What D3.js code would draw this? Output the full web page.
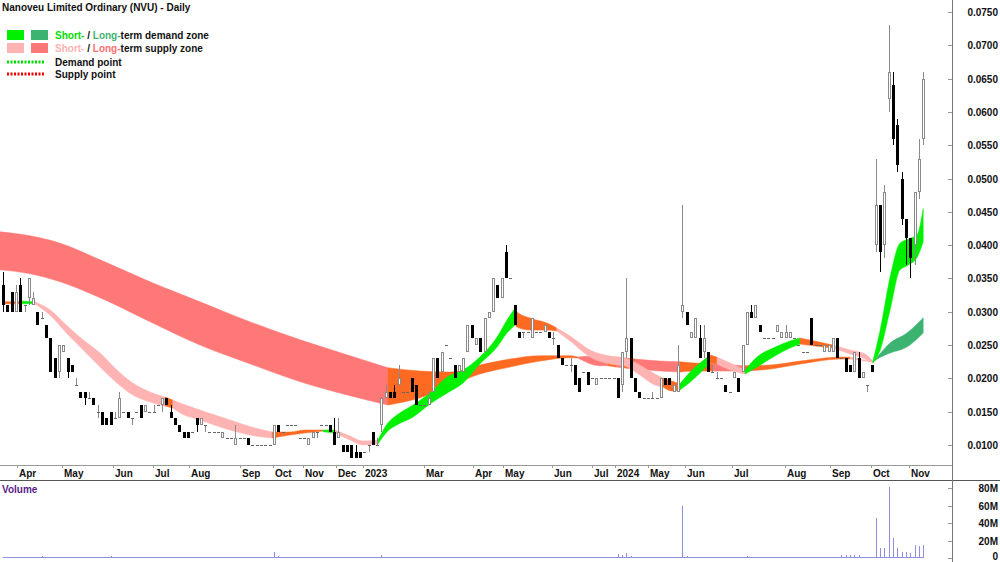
<!DOCTYPE html>
<html>
<head>
<meta charset="utf-8">
<script src="https://cdn.jsdelivr.net/npm/d3@7"></script>
<style>
    body { margin: 0; background: #fff; }
    svg { display: block; font-family: "Liberation Sans", Arial, sans-serif; font-weight: bold; font-size: 10px; }
</style>
</head>
<body>
<div id="chart"></div>
<script>
// Prices are in 0.1 cent units (31 = $0.031), one entry per bar
const opens = [
    34,31,33,30,34,31,32,31,30,29, 28,26,23,21,24,23,22,19,18,18,
    17,17,15,15,14,15,14,14,15,15, 14,15,16,15,15,15,16,16,17,15,
    14,13,12,12,12,14,13,13,12,12, 12,11,11,11,10,11,11,11,10,10,
    10,10,10,10,13,12,13,13,13,11, 11,10,11,12,13,13,13,12,11,10,
    10,10,9,9,9,10,12,10,13,17, 18,18,19,18,18,20,19,16,16,16,
    18,23,21,25,23,22,21,21,24,28, 25,26,24,29,30,34,32,39,35,31,
    27,27,27,26,27,27,27,27,26,25, 23,22,22,22,20,21,21,20,19,20,
    20,20,20,20,19,24,26,20,18,17, 17,17,17,17,20,20,18,18,30,30,
    26,26,26,24,24,21,20,20,19,18, 20,20,21,25,30,29,28,26,26,26,
    27,26,26,26,26,25,24,24,29,25, 25,24,24,24,26,23,23,22,21,23,
    20,19,22,40,46,40,62,64,58,50, 44,41,40,48,56
];
const highs = [
    36,31,33,34,35,31,35,33,30,30, 28,26,23,25,25,23,22,20,18,18,
    18,17,16,15,14,15,15,18,15,15, 14,15,16,16,15,16,16,17,17,16,
    14,13,12,12,12,14,14,13,12,12, 12,12,11,11,13,11,11,11,10,10,
    10,10,10,13,13,12,13,13,13,11, 11,11,12,12,13,13,13,14,14,10,
    10,10,10,9,9,10,12,11,17,19, 18,19,22,18,18,20,19,16,16,18,
    23,23,24,25,23,22,22,23,28,28, 26,26,29,30,35,34,35,40,35,31,
    27,27,27,29,27,27,28,27,27,25, 23,22,23,22,20,21,21,20,20,20,
    20,20,20,20,24,35,26,20,18,17, 17,18,17,20,20,20,19,25,46,30,
    27,29,28,28,24,22,21,20,19,18, 21,20,25,30,31,31,28,26,26,26,
    28,27,28,27,26,25,24,24,29,25, 25,25,25,26,26,23,23,22,24,24,
    21,19,22,53,46,49,73,66,59,51, 44,41,48,56,66
];
const lows = [
    30,30,30,30,30,30,31,31,28,29, 26,21,20,20,24,20,21,19,17,16,
    17,16,14,13,13,13,14,14,15,14, 13,15,14,15,15,15,16,15,16,14,
    13,12,11,11,12,12,13,12,12,12, 12,11,11,11,10,11,11,10,10,10,
    10,10,10,10,12,12,13,13,13,11, 11,10,11,11,13,13,12,10,11,9,
    9,8,8,8,9,9,10,10,12,17, 17,17,19,18,18,18,16,16,16,16,
    18,20,21,25,23,20,21,21,24,26, 25,24,24,29,30,32,32,35,35,28,
    26,26,27,26,27,27,27,26,25,23, 22,22,21,19,18,21,19,20,19,20,
    20,20,20,17,18,23,20,18,17,17, 17,17,17,17,19,19,18,18,29,28,
    26,26,23,23,21,21,20,20,18,18, 20,18,21,25,29,29,27,26,26,26,
    27,26,26,26,26,25,24,24,25,25, 25,24,24,24,23,23,21,21,21,20,
    20,18,21,39,36,38,60,55,51,43, 37,35,37,47,55
];
const closes = [
    31,30,30,33,30,31,35,32,28,29, 26,21,20,25,25,21,21,19,17,17,
    17,16,15,13,13,13,14,17,15,14, 14,15,14,16,15,15,16,17,16,14,
    13,12,11,11,12,13,14,13,12,12, 12,12,11,11,11,11,11,10,10,10,
    10,10,10,13,12,12,13,13,13,11, 11,11,12,12,13,13,12,10,12,9,
    9,8,8,8,9,10,10,10,17,18, 17,17,20,18,18,18,16,16,16,17,
    23,20,24,25,23,20,22,23,28,26, 26,24,29,30,35,32,35,35,35,28,
    26,27,27,29,27,27,28,26,26,23, 22,22,22,19,18,21,19,20,20,20,
    20,20,20,17,24,26,20,18,17,17, 17,17,17,20,19,19,19,22,31,28,
    27,29,23,26,21,21,20,20,18,18, 21,18,25,30,29,31,27,26,26,26,
    28,27,27,27,26,25,24,24,25,25, 25,25,25,26,23,23,21,21,24,20,
    21,19,21,46,39,48,66,56,52,44, 41,38,48,53,65
];
// Volume in millions of shares
const volumes = [
    1,1,1,1,1,1,1,1,1,2, 1,1,1,1,1,1,1,1,1,1,
    1,1,1,1,1,2,1,1,1,1, 1,1,1,1,1,1,1,1,1,1,
    1,1,1,1,1,1,1,1,1,1, 1,1,1,1,1,1,1,1,1,1,
    1,1,1,7,2,1,1,1,1,1, 1,1,1,1,1,1,1,1,1,1,
    1,1,1,1,1,1,1,1,3,1, 1,1,1,1,1,1,1,1,1,1,
    1,1,1,1,1,1,1,1,1,1, 1,1,1,1,1,1,1,1,1,1,
    1,1,1,1,1,1,1,1,1,1, 1,1,1,1,1,1,1,1,1,1,
    1,1,1,5,3,6,2,1,1,1, 1,1,1,1,1,1,1,1,60,2,
    1,1,1,1,1,1,1,1,1,1, 1,1,1,2,1,1,1,1,1,1,
    1,1,1,1,1,1,1,1,1,1, 1,1,1,1,1,3,3,3,3,3,
    1,1,1,46,12,12,81,23,12,7, 7,6,15,14,15
];

// Zone bands: [bar position, upper, lower] per point
const longBand = [
    ['ls', [[-0.7,42.0,36.3],[6.3,41.4,35.7],[13.3,40.3,34.5],[22.6,37.8,32.1],[34.2,34.5,28.5],[45.8,31.5,25.0],[57.4,28.5,22.2],[69.1,25.8,19.5],[80.7,23.4,17.4],[89.5,21.6,16.0]]],
    ['mx', [[89.5,21.6,16.0],[97.0,21.1,17.1],[104.0,20.95,18.9],[110.9,22.0,20.65],[117.9,22.9,21.7],[124.9,23.4,22.6],[131.9,23.4,23.1],[133.7,23.2,23.05]]],
    ['ls', [[133.7,23.2,23.05],[138.8,23.4,21.9],[140.7,23.2,21.9]]],
    ['mx', [[140.7,23.2,21.9],[142.6,23.2,21.7]]],
    ['ls', [[142.6,23.2,21.7],[144.0,23.1,21.6]]],
    ['mx', [[144.0,23.1,21.6],[147.0,22.9,21.4]]],
    ['ls', [[147.0,22.9,21.4],[152.8,22.6,21.1],[157.4,22.5,20.95]]],
    ['mx', [[157.4,22.5,20.95],[160.9,22.3,21.1],[164.9,22.2,21.1]]],
    ['ls', [[164.9,22.2,21.1],[172.1,21.9,21.1]]],
    ['mx', [[172.1,21.9,21.1],[178.4,22.0,21.4],[185.4,22.6,22.15],[194.7,23.2,22.9],[197.0,23.2,22.9]]],
    ['ss', [[197.0,23.2,22.9],[202.3,22.5,22.45]]],
    ['ld', [[202.3,22.5,22.45],[203.3,23.2,22.9],[206.3,25.3,23.8],[210.2,26.8,24.7],[214.0,29.1,26.8]]]
];
const shortBand = [
    ['mx', [[0,31.5,31.2],[4.0,31.5,31.2]]],
    ['sd', [[4.0,31.6,31.2],[7.4,31.5,31.2]]],
    ['ss', [[7.4,31.5,31.2],[10.9,30.3,29.5],[14.9,27.9,26.7],[18.6,25.8,24.3],[22.6,23.8,21.7],[26.5,21.25,19.3],[30.2,19.3,17.5],[34.2,17.95,16.45],[37.7,17.2,15.85]]],
    ['mx', [[37.7,17.2,15.85],[39.5,16.75,15.55]]],
    ['ss', [[39.5,16.75,15.55],[41.2,16.3,14.8],[45.8,15.25,13.75],[52.8,13.75,12.25],[58.6,12.55,11.35],[62.6,11.95,11.05]]],
    ['mx', [[62.6,11.95,11.05],[66.7,11.95,11.5],[70.2,12.25,11.8],[74.4,12.25,12.1]]],
    ['sd', [[74.4,12.25,12.0],[77.2,12.25,11.8]]],
    ['ss', [[77.2,12.25,11.8],[80.7,11.35,10.75],[83.7,10.6,10.0],[87.2,10.75,10.15]]],
    ['sd', [[87.2,10.75,10.15],[89.5,13.3,12.1],[91.6,14.5,13.0],[95.35,16.0,14.2],[99.3,17.8,16.15],[103.3,20.2,17.8],[107.0,21.25,19.3],[110.9,23.2,22.15],[114.9,26.2,24.7],[117.2,28.75,26.8],[119.1,30.55,28.0]]],
    ['mx', [[119.1,30.55,28.0],[119.5,30.0,27.7],[122.6,29.05,27.25],[126.5,28.3,27.25],[128.8,27.55,27.1]]],
    ['ss', [[128.8,27.55,27.1],[131.9,26.35,25.6],[136.5,24.25,23.2],[141.2,23.35,22.15],[144.65,23.05,21.85],[148.1,22.0,20.5],[151.6,20.65,19.0],[153.5,20.05,18.7]]],
    ['mx', [[153.5,20.05,18.7],[155.6,19.6,18.1],[157.4,19.15,18.25]]],
    ['sd', [[157.4,19.15,18.25],[159.8,20.95,19.45],[162.1,22.3,20.8],[164.4,23.5,22.3]]],
    ['mx', [[164.4,23.5,22.3],[166.05,23.2,22.15]]],
    ['ss', [[166.05,23.2,22.15],[169.1,22.3,21.25],[172.6,21.25,20.65]]],
    ['sd', [[172.6,21.25,20.65],[175.35,23.2,21.7],[179.1,24.55,23.2],[183.0,25.6,24.55],[185.35,26.05,25.15]]],
    ['mx', [[185.35,26.05,25.15],[188.8,25.6,24.85],[193.0,25.0,24.55]]],
    ['ss', [[193.0,25.0,24.55],[197.0,24.25,23.65],[200.5,23.65,22.9],[202.3,22.6,22.3]]],
    ['sd', [[202.3,22.6,22.3],[204.0,27.25,24.25],[206.3,35.2,30.25],[208.6,40.3,36.3],[210.5,40.9,37.0],[212.6,41.6,38.2],[214.0,45.5,40.5]]]
];

// Axis labels
const monthLabels = ['Apr','May','Jun','Jul','Aug','Sep','Oct','Nov','Dec','2023','Mar','Apr','May','Jun','Jul','2024','May','Jun','Jul','Aug','Sep','Oct','Nov'];
const monthPos = [3.26,13.72,25.58,34.88,43.26,55.12,62.79,69.77,77.44,83.72,97.91,109.3,116.28,127.67,136.98,142.33,150.0,158.6,169.53,181.86,192.33,201.86,210.7];
const priceTicks = [10,15,20,25,30,35,40,45,50,55,60,65,70,75];
const volTicks = [0,20,40,60,80];
const volTickLabels = ['0','20M','40M','60M','80M'];

const zoneColors = {
    sd: '#00f000',   // short-term demand
    ld: '#3cb371',   // long-term demand
    ss: '#ffb3b3',   // short-term supply
    ls: '#ff7878',   // long-term supply
    mx: '#ff6a22'
};

const W = 1000, H = 562;
const axisX = 952;
const priceBottom = 465;

const svg = d3.select('#chart').append('svg')
    .attr('width', W)
    .attr('height', H);

svg.append('rect').attr('width', W).attr('height', H).attr('fill', '#fff');

// Scales
const x = d3.scaleLinear().domain([-0.7, 220.7]).range([0, axisX]);
const y = d3.scaleLinear().domain([7.0, 76.8]).range([priceBottom, 0]);
const vy = d3.scaleLinear().domain([0, 80]).range([558, 488]);

svg.append('clipPath').attr('id', 'priceClip')
    .append('rect').attr('x', 0).attr('y', 0).attr('width', axisX).attr('height', priceBottom);

const plot = svg.append('g').attr('clip-path', 'url(#priceClip)');

// Zone bands
const area = d3.area()
    .x(d => x(d[0]))
    .y0(d => y(d[2]))
    .y1(d => y(d[1]))
    .curve(d3.curveMonotoneX);

[longBand, shortBand].forEach(band => {
    band.forEach(seg => {
        plot.append('path')
            .attr('d', area(seg[1]))
            .attr('fill', zoneColors[seg[0]])
            .attr('stroke', zoneColors[seg[0]])
            .attr('stroke-width', 0.5);
    });
});

// Candles
const candles = plot.append('g').attr('shape-rendering', 'crispEdges');
opens.forEach((o, i) => {
    const h = highs[i], l = lows[i], c = closes[i];
    const px = Math.round(x(i));
    const up = c > o;
    const down = c < o;
    const col = down ? '#000' : '#8a8a8a';
    if (h > l) {
        candles.append('line')
            .attr('x1', px + 0.5).attr('x2', px + 0.5)
            .attr('y1', Math.round(y(h))).attr('y2', Math.round(y(l)))
            .attr('stroke', col).attr('stroke-width', 1);
    }
    if (down) {
        const y0 = Math.round(y(o)), y1 = Math.round(y(c));
        candles.append('rect')
            .attr('x', px - 1).attr('y', y0)
            .attr('width', 3).attr('height', Math.max(1, y1 - y0))
            .attr('fill', '#000');
    } else if (up) {
        const y0 = Math.round(y(c)), y1 = Math.round(y(o));
        candles.append('rect')
            .attr('x', px - 0.5).attr('y', y0 + 0.5)
            .attr('width', 2).attr('height', Math.max(1, y1 - y0 - 1))
            .attr('fill', '#fff')
            .attr('stroke', '#8a8a8a').attr('stroke-width', 1);
    } else {
        const yy = Math.round(y(o)) + 0.5;
        candles.append('line')
            .attr('x1', px - 1).attr('x2', px + 2)
            .attr('y1', yy).attr('y2', yy)
            .attr('stroke', '#666').attr('stroke-width', 1);
    }
});

// Frame lines
svg.append('line')
    .attr('x1', 0).attr('x2', axisX).attr('y1', priceBottom + 0.5).attr('y2', priceBottom + 0.5)
    .attr('stroke', '#999');
svg.append('line')
    .attr('x1', 0).attr('x2', W).attr('y1', 480.5).attr('y2', 480.5)
    .attr('stroke', '#555');
svg.append('line')
    .attr('x1', axisX + 0.5).attr('x2', axisX + 0.5).attr('y1', 0).attr('y2', H)
    .attr('stroke', '#777');

// Price axis
priceTicks.forEach(v => {
    const yy = Math.round(y(v)) + 0.5;
    svg.append('line')
        .attr('x1', axisX - 4).attr('x2', axisX).attr('y1', yy).attr('y2', yy)
        .attr('stroke', '#999');
    svg.append('text')
        .attr('x', 998).attr('y', yy + 3.5)
        .attr('text-anchor', 'end')
        .attr('fill', '#111')
        .text((v / 1000).toFixed(4));
});

// Month axis
monthLabels.forEach((m, i) => {
    const px = Math.round(x(monthPos[i])) + 0.5;
    svg.append('line')
        .attr('x1', px).attr('x2', px).attr('y1', priceBottom).attr('y2', priceBottom + 3)
        .attr('stroke', '#999');
    svg.append('text')
        .attr('x', px + 1.5).attr('y', 477)
        .attr('fill', '#111')
        .text(m);
});

// Volume panel
svg.append('text')
    .attr('x', 2).attr('y', 493)
    .attr('fill', '#5a1d8c')
    .text('Volume');

svg.append('line')
    .attr('x1', x(0)).attr('x2', x(volumes.length - 1))
    .attr('y1', 557.5).attr('y2', 557.5)
    .attr('stroke', '#8f8fe0');

svg.append('g').attr('shape-rendering', 'crispEdges')
    .selectAll('line')
    .data(volumes)
    .enter()
    .append('line')
    .attr('x1', (d, i) => Math.round(x(i)) + 0.5)
    .attr('x2', (d, i) => Math.round(x(i)) + 0.5)
    .attr('y1', vy(0))
    .attr('y2', d => vy(d))
    .attr('stroke', '#8f8fe0')
    .attr('stroke-width', 1);

volTicks.forEach((v, i) => {
    const yy = Math.round(vy(v)) + 0.5;
    svg.append('line')
        .attr('x1', axisX - 4).attr('x2', axisX).attr('y1', yy).attr('y2', yy)
        .attr('stroke', '#999');
    svg.append('text')
        .attr('x', 998).attr('y', Math.min(yy + 3.5, 560))
        .attr('text-anchor', 'end')
        .attr('fill', '#111')
        .text(volTickLabels[i]);
});

// Title and legend
svg.append('text')
    .attr('x', 2).attr('y', 11)
    .attr('fill', '#111')
    .text('Nanoveu Limited Ordinary (NVU) - Daily');

const legend = svg.append('g');
const legendRows = [
    { sw: ['#00f000', '#3cb371'], parts: [['Short-', '#00dd00'], [' / ', '#111'], ['Long-', '#3cb371'], ['term demand zone', '#111']] },
    { sw: ['#ffb3b3', '#ff7878'], parts: [['Short-', '#ffb3b3'], [' / ', '#111'], ['Long-', '#ff7070'], ['term supply zone', '#111']] }
];
legendRows.forEach((row, r) => {
    const top = 30 + r * 13;
    legend.append('rect').attr('x', 7).attr('y', top).attr('width', 17).attr('height', 10).attr('fill', row.sw[0]);
    legend.append('rect').attr('x', 31).attr('y', top).attr('width', 17).attr('height', 10).attr('fill', row.sw[1]);
    const t = legend.append('text').attr('x', 55).attr('y', top + 9);
    row.parts.forEach(p => t.append('tspan').attr('fill', p[1]).text(p[0]));
});
[['Demand point', '#00dd00'], ['Supply point', '#ee0000']].forEach((p, r) => {
    const yy = 62 + r * 12;
    legend.append('line')
        .attr('x1', 7).attr('x2', 45).attr('y1', yy).attr('y2', yy)
        .attr('stroke', p[1]).attr('stroke-width', 3)
        .attr('stroke-dasharray', '2,1.5');
    legend.append('text').attr('x', 55).attr('y', yy + 4).attr('fill', '#111').text(p[0]);
});
</script>
</body>
</html>
